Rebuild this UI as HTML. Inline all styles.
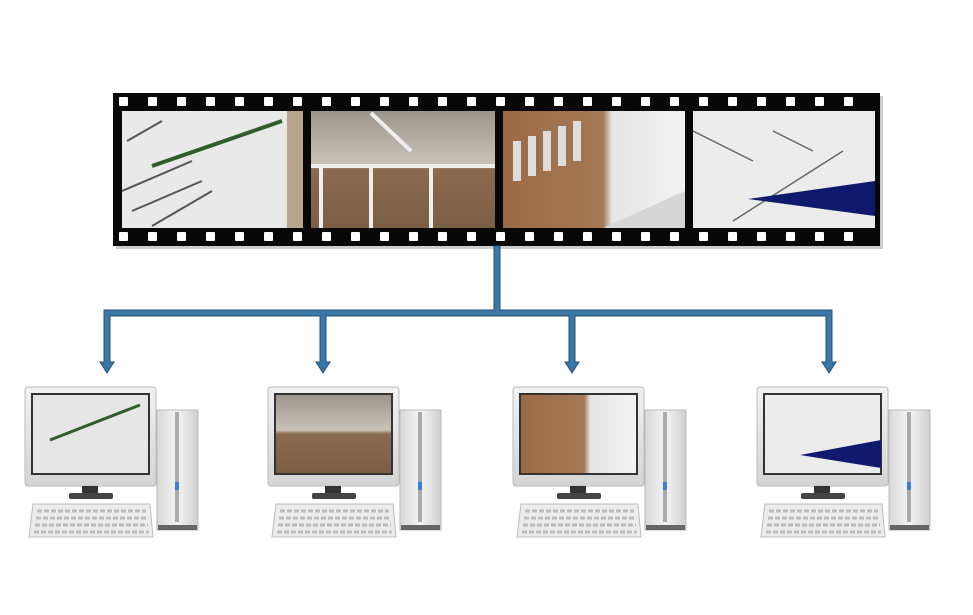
<!DOCTYPE html>
<html><head><style>body{margin:0;background:#fff}svg{display:block}</style></head><body>
<svg width="973" height="615" viewBox="0 0 973 615" xmlns="http://www.w3.org/2000/svg">
<defs>
<linearGradient id="mon" x1="0" y1="0" x2="0" y2="1"><stop offset="0" stop-color="#f2f2f2"/><stop offset="1" stop-color="#d4d4d4"/></linearGradient>
<linearGradient id="tw" x1="0" y1="0" x2="1" y2="0"><stop offset="0" stop-color="#d8d8d8"/><stop offset=".5" stop-color="#f4f4f4"/><stop offset="1" stop-color="#cfcfcf"/></linearGradient>
<linearGradient id="roof" x1="0" y1="0" x2="0" y2="1"><stop offset="0" stop-color="#9a948c"/><stop offset=".45" stop-color="#c9c2b8"/><stop offset=".5" stop-color="#8b6a4e"/><stop offset="1" stop-color="#7a5f45"/></linearGradient>
<linearGradient id="wall" x1="0" y1="0" x2="1" y2="0"><stop offset="0" stop-color="#9a6a45"/><stop offset=".55" stop-color="#a57955"/><stop offset=".6" stop-color="#e6e6e6"/><stop offset="1" stop-color="#f2f2f2"/></linearGradient>
<g id="f1"><rect width="181" height="117" fill="#e9e9e9"/><g stroke="#555" stroke-width="2"><line x1="5" y1="30" x2="40" y2="10"/><line x1="0" y1="80" x2="70" y2="50"/><line x1="10" y1="100" x2="80" y2="70"/><line x1="30" y1="115" x2="90" y2="80"/></g><line x1="30" y1="55" x2="160" y2="10" stroke="#2f5e2a" stroke-width="4"/><rect x="165" y="0" width="16" height="117" fill="#b8a58a"/></g>
<g id="f2"><rect width="184" height="117" fill="url(#roof)"/><g stroke="#eee" stroke-width="4"><line x1="10" y1="55" x2="10" y2="117"/><line x1="60" y1="55" x2="60" y2="117"/><line x1="120" y1="55" x2="120" y2="117"/><line x1="0" y1="55" x2="184" y2="55"/><line x1="60" y1="2" x2="100" y2="40"/></g></g>
<g id="f3"><rect width="182" height="117" fill="url(#wall)"/><g fill="#ddd"><rect x="10" y="30" width="8" height="40"/><rect x="25" y="25" width="8" height="40"/><rect x="40" y="20" width="8" height="40"/><rect x="55" y="15" width="8" height="40"/><rect x="70" y="10" width="8" height="40"/></g><polygon points="100,117 182,80 182,117" fill="#d6d6d6"/></g>
<g id="f4"><rect width="182" height="117" fill="#ececec"/><g stroke="#666" stroke-width="1.5"><line x1="0" y1="20" x2="60" y2="50"/><line x1="40" y1="110" x2="150" y2="40"/><line x1="80" y1="20" x2="120" y2="40"/></g><polygon points="55,88 182,70 182,105" fill="#0f1a6e"/></g>
<g id="pc">
<rect x="0" y="0" width="131" height="99" rx="3" fill="url(#mon)" stroke="#bbb"/>
<rect x="57" y="99" width="16" height="10" fill="#333"/>
<rect x="44" y="106" width="44" height="6" rx="2" fill="#444"/>
<path d="M8 117 L125 117 L128 150 L4 150 Z" fill="#ececec" stroke="#bbb"/>
<g stroke="#bdbdbd" stroke-width="3" stroke-dasharray="5 2"><line x1="12" y1="124" x2="121" y2="124"/><line x1="11" y1="131" x2="122" y2="131"/><line x1="10" y1="138" x2="123" y2="138"/><line x1="9" y1="145" x2="124" y2="145"/></g>
<rect x="132" y="23" width="41" height="120" fill="url(#tw)" stroke="#bbb"/>
<rect x="150" y="25" width="4" height="110" fill="#aaa"/>
<rect x="150" y="95" width="4" height="8" fill="#3a7ed8"/>
<rect x="133" y="138" width="39" height="5" fill="#666"/>
</g>
</defs>
<!-- film strip -->
<rect x="116" y="96" width="767" height="153" fill="#999" opacity=".5"/>
<rect x="113" y="93" width="767" height="153" fill="#080808"/>
<g fill="#fff">
<g id="holes">
<rect x="119" y="97" width="9" height="9" rx="1"/><rect x="148" y="97" width="9" height="9" rx="1"/><rect x="177" y="97" width="9" height="9" rx="1"/><rect x="206" y="97" width="9" height="9" rx="1"/><rect x="235" y="97" width="9" height="9" rx="1"/><rect x="264" y="97" width="9" height="9" rx="1"/><rect x="293" y="97" width="9" height="9" rx="1"/><rect x="322" y="97" width="9" height="9" rx="1"/><rect x="351" y="97" width="9" height="9" rx="1"/><rect x="380" y="97" width="9" height="9" rx="1"/><rect x="409" y="97" width="9" height="9" rx="1"/><rect x="438" y="97" width="9" height="9" rx="1"/><rect x="467" y="97" width="9" height="9" rx="1"/><rect x="496" y="97" width="9" height="9" rx="1"/><rect x="525" y="97" width="9" height="9" rx="1"/><rect x="554" y="97" width="9" height="9" rx="1"/><rect x="583" y="97" width="9" height="9" rx="1"/><rect x="612" y="97" width="9" height="9" rx="1"/><rect x="641" y="97" width="9" height="9" rx="1"/><rect x="670" y="97" width="9" height="9" rx="1"/><rect x="699" y="97" width="9" height="9" rx="1"/><rect x="728" y="97" width="9" height="9" rx="1"/><rect x="757" y="97" width="9" height="9" rx="1"/><rect x="786" y="97" width="9" height="9" rx="1"/><rect x="815" y="97" width="9" height="9" rx="1"/><rect x="844" y="97" width="9" height="9" rx="1"/>
</g>
<use href="#holes" y="135"/>
</g>
<use href="#f1" x="122" y="111"/>
<use href="#f2" x="311" y="111"/>
<use href="#f3" x="503" y="111"/>
<use href="#f4" x="693" y="111"/>
<!-- connectors -->
<g fill="#3b78a8" stroke="#25506f" stroke-width="1">
<path d="M494 246 H500 V310 H832 V362 H836 L829 373 L822 362 H826 V316 H575 V362 H579 L572 373 L565 362 H569 V316 H326 V362 H330 L323 373 L316 362 H320 V316 H110 V362 H114 L107 373 L100 362 H104 V310 H494 Z"/>
</g>
<!-- computers -->
<use href="#pc" x="25" y="387"/>
<rect x="32" y="394" width="117" height="80" fill="#e6e6e6" stroke="#333" stroke-width="2"/>
<line x1="50" y1="440" x2="140" y2="405" stroke="#2f5e2a" stroke-width="3"/>
<use href="#pc" x="268" y="387"/>
<rect x="275" y="394" width="117" height="80" fill="url(#roof)" stroke="#333" stroke-width="2"/>
<use href="#pc" x="513" y="387"/>
<rect x="520" y="394" width="117" height="80" fill="url(#wall)" stroke="#333" stroke-width="2"/>
<use href="#pc" x="757" y="387"/>
<rect x="764" y="394" width="117" height="80" fill="#ececec" stroke="#333" stroke-width="2"/>
<polygon points="800,455 881,440 881,468" fill="#0f1a6e"/>
</svg>
</body></html>
